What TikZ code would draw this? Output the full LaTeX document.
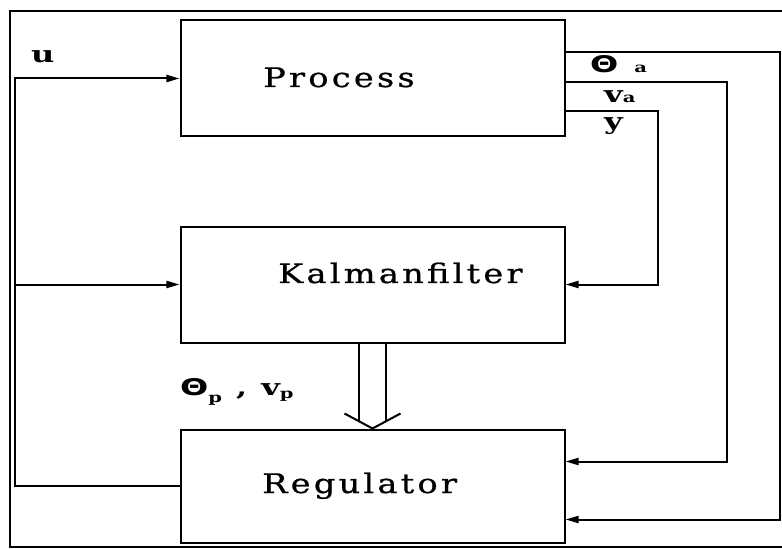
\documentclass[tikz,border=0pt]{standalone}
\usepackage{fontspec}
\setmainfont{DejaVu Serif}
\newfontfamily\blkfont[FakeStretch=1.25,LetterSpace=12,FakeBold=0.8]{DejaVu Serif}
\newfontfamily\lblfont[FakeStretch=1.4]{DejaVu Serif Bold}
\newfontfamily\thfont{DejaVu Sans Bold}
\usetikzlibrary{arrows.meta,positioning}

\newcommand{\sublbl}[1]{{\fontsize{14}{14}\selectfont #1}}
\newcommand{\wtheta}{\scalebox{1.45}[1]{\thfont Θ}}

\begin{document}
\begin{tikzpicture}[
  x=1bp,y=-1bp,
  node distance=88bp,
  blk/.style={draw,line width=2bp,minimum width=384bp,minimum height=116bp,inner sep=0pt},
  btxt/.style={font=\blkfont\fontsize{27}{32}\selectfont,inner sep=0pt,anchor=base west},
  lbl/.style={font=\lblfont\fontsize{23}{28}\selectfont,inner sep=0pt,anchor=base west},
  sig/.style={line width=2bp,-{Triangle[length=13bp,width=7bp]}},
  ln/.style={line width=2bp},
  frm/.style={line width=1.4bp}
]
  \useasboundingbox (0,0) rectangle (782,549);
  \draw[frm] (782,11) -- (10,11) -- (10,547) -- (782,547);

  \node[blk] (proc) at (372.5,78.5) {};
  \node[blk,below=of proc] (kal) {};
  \node[blk,below=85bp of kal,minimum height=113bp] (reg) {};

  \node[btxt] (ptxt) at (263,87) {Process};
  \node[btxt] (ktxt) at (278,283) {Kalmanfilter};
  \node[btxt] (rtxt) at (262,493) {Regulator};

  % control signal u
  \coordinate (bus) at (15,0);
  \draw[sig] (reg.west) -- (reg.west -| bus) |- (proc.west);
  \draw[sig] (kal.west -| bus) -- (kal.west);
  \node[lbl] (u) at (31,63) {u};

  % measurements
  \coordinate (ta) at (780,52);
  \coordinate (va) at (727,82);
  \coordinate (yy) at (658,111);
  \draw[sig] (proc.east |- ta) -- (ta) |- ([yshift=-33.5bp]reg.east);
  \draw[sig] (proc.east |- va) -- (va) |- ([yshift=24.5bp]reg.east);
  \draw[sig] (proc.east |- yy) -- (yy) |- (kal.east);
  \node[lbl] (tha) at (590,73) {\wtheta\hspace{16bp}\sublbl{a}};
  \node[lbl] (vela) at (604,103) {v\sublbl{a}};
  \node[lbl] (ymeas) at (604,130) {y};

  % estimates
  \draw[ln] ([xshift=-13.5bp]kal.south) -- ([xshift=-13.5bp,yshift=7bp]reg.north);
  \draw[ln] ([xshift=13.5bp]kal.south) -- ([xshift=13.5bp,yshift=7bp]reg.north);
  \draw[ln] ([xshift=-28bp,yshift=15bp]reg.north) -- (reg.north)
    -- ([xshift=28bp,yshift=15bp]reg.north);
  \node[lbl] (est) at (180,395)
    {\wtheta\raisebox{-7bp}{\sublbl{p}}\hspace{14bp},\hspace{14bp}v\raisebox{-3bp}{\sublbl{p}}};
\end{tikzpicture}
\end{document}
